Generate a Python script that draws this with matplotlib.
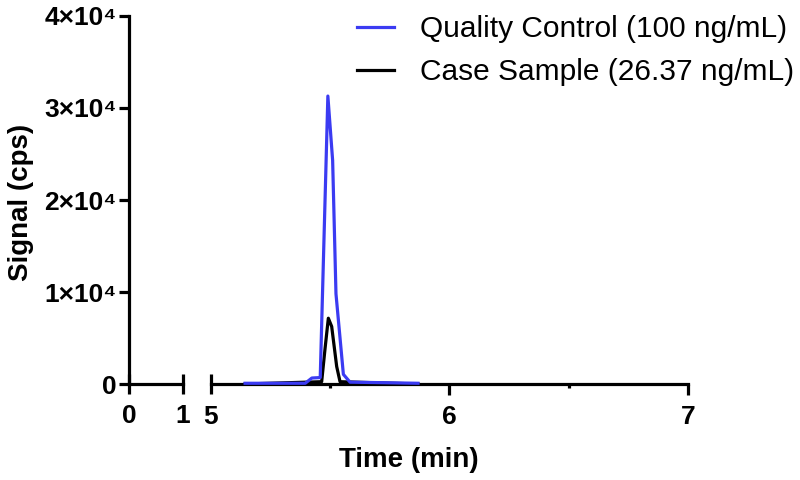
import matplotlib
matplotlib.use('Agg')
import matplotlib.pyplot as plt
from matplotlib.lines import Line2D
from matplotlib.ticker import FuncFormatter

plt.rcParams['font.family'] = ['Liberation Sans', 'DejaVu Sans']

# chromatogram readings (time in min, signal in cps)
qc_time = [5.143, 5.395, 5.423, 5.458, 5.490, 5.510, 5.524, 5.555, 5.583, 5.868]
qc_signal = [80, 80, 650, 700, 31300, 24300, 9800, 1050, 200, 80]
case_time = [5.143, 5.464, 5.478, 5.492, 5.506, 5.527, 5.541, 5.868]
case_signal = [0, 250, 3800, 7150, 6250, 1900, 250, 0]

qc_label = 'Quality Control (100 ng/mL)'
case_label = 'Case Sample (26.37 ng/mL)'
qc_color = '#3b3bf2'
case_color = 'black'

yticks = [0, 10000, 20000, 30000, 40000]
lw = 2.3


def sci_fmt(v, pos):
    if v == 0:
        return '0'
    return '%d×10⁴' % round(v / 10000)


fig = plt.figure(figsize=(8, 4.8), dpi=100)
ax1 = fig.add_axes([129 / 800, 0.2, 54 / 800, 368 / 480])
ax2 = fig.add_axes([211 / 800, 0.2, 477 / 800, 368 / 480], sharey=ax1)

for ax in (ax1, ax2):
    ax.plot(case_time, case_signal, color=case_color, lw=lw, clip_on=False, zorder=3)
    ax.plot(qc_time, qc_signal, color=qc_color, lw=lw, clip_on=False, zorder=4)
    for s in ax.spines.values():
        s.set_linewidth(lw)
    ax.spines['top'].set_visible(False)
    ax.spines['right'].set_visible(False)

ax1.set_xlim(0, 1)
ax2.set_xlim(5, 7)
ax1.set_ylim(0, 40000)

ax1.set_yticks(yticks)
ax1.yaxis.set_major_formatter(FuncFormatter(sci_fmt))
ax1.tick_params(axis='y', direction='out', length=7, width=lw, labelsize=19, pad=2)
ax1.set_xticks([0, 1])
ax1.tick_params(axis='x', direction='inout', length=14.5, width=lw, labelsize=19, pad=7)

ax2.spines['left'].set_visible(False)
ax2.tick_params(axis='y', left=False, labelleft=False)
ax2.set_xticks([5, 6, 7])
ax2.set_xticks([5.5, 6.5], minor=True)
ax2.tick_params(axis='x', which='major', direction='out', length=8, width=lw, labelsize=19, pad=7)
ax2.tick_params(axis='x', which='minor', direction='out', length=3, width=lw)
# the 5 tick is a break mark crossing the axis line
t5 = ax2.xaxis.get_major_ticks()[0]
t5.tick1line.set_marker('|')
t5.tick1line.set_markersize(14.5)

for ax in (ax1, ax2):
    for lab in ax.get_xticklabels() + ax.get_yticklabels():
        lab.set_fontweight('bold')

fig.text(21.5 / 800, 0.578, 'Signal (cps)', fontsize=20, fontweight='bold',
         rotation=90, ha='center', va='center')
fig.text((129 + 688) / 2 / 800, 0.042, 'Time (min)', fontsize=20, fontweight='bold',
         ha='center', va='center')

handles = [Line2D([], [], color=qc_color, lw=lw), Line2D([], [], color=case_color, lw=lw)]
fig.legend(handles, [qc_label, case_label], loc='upper left', bbox_to_anchor=(0.446, 0.968),
           frameon=False, fontsize=21.5, handlelength=1.25, handletextpad=0.85,
           labelspacing=0.5, borderpad=0, borderaxespad=0)

fig.savefig('out.png', dpi=100)
